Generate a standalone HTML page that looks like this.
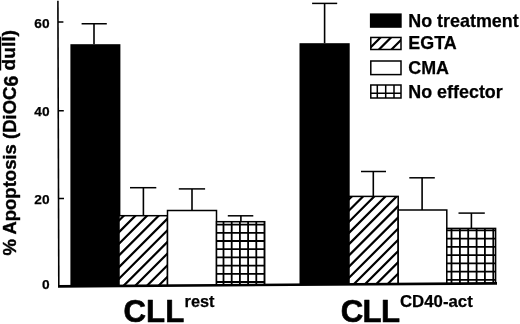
<!DOCTYPE html>
<html><head><meta charset="utf-8">
<style>
html,body{margin:0;padding:0;background:#fff;overflow:hidden;}
svg{display:block;filter:blur(0.4px);}
text{font-family:"Liberation Sans",sans-serif;font-weight:bold;fill:#000;stroke:#000;stroke-width:0.25px;stroke-linejoin:round;}
.yl{stroke-width:0.4px}
.big{stroke-width:0.6px}
</style></head>
<body>
<svg width="520" height="324" viewBox="0 0 520 324">
<rect width="520" height="324" fill="#fff"/>
<path d="M57.9,0.8L58.8,286.4" stroke="#000" stroke-width="1.6" fill="none"/>
<path d="M58,22H63.4M58,110.7H63.8M58,198.5H64" stroke="#000" stroke-width="1.6"/>
<text x="49.6" y="27.7" font-size="13.7" text-anchor="end">60</text>
<text x="49.6" y="116.3" font-size="13.7" text-anchor="end">40</text>
<text x="49.6" y="204.4" font-size="13.7" text-anchor="end">20</text>
<text x="49.6" y="289.3" font-size="13.7" text-anchor="end">0</text>
<text transform="translate(15.5,255.5) rotate(-90)" class="yl" font-size="18.5">% Apoptosis (DiOC</text>
<text transform="translate(17.9,86.4) rotate(-90)" class="yl" font-size="19.5">6</text>
<text transform="translate(15.4,70.5) rotate(-90)" class="yl" font-size="19.2">dull)</text>
<rect x="0" y="36.7" width="1.2" height="33.8" fill="#000"/>
<rect x="70.4" y="44.2" width="50.0" height="245.8" fill="#000"/>
<path d="M94,44.2V23.75" stroke="#000" stroke-width="1.6"/><path d="M81.6,23.75H106.8" stroke="#000" stroke-width="1.5"/>
<clipPath id="ch1"><rect x="119" y="215.7" width="48.5" height="74.30000000000001"/></clipPath>
<rect x="119" y="215.7" width="48.5" height="74.30000000000001" fill="#fff"/>
<path d="M117.0,222.5L169.5,170.0M117.0,234.1L169.5,181.6M117.0,245.8L169.5,193.3M117.0,257.4L169.5,204.9M117.0,269.1L169.5,216.6M117.0,280.7L169.5,228.2M117.0,292.4L169.5,239.9M117.0,304.0L169.5,251.5M117.0,315.7L169.5,263.2M117.0,327.3L169.5,274.8M117.0,339.0L169.5,286.5" stroke="#000" stroke-width="2.2" clip-path="url(#ch1)" fill="none"/>
<rect x="119" y="215.7" width="48.5" height="74.30000000000001" fill="none" stroke="#000" stroke-width="1.5"/>
<path d="M143.4,215.7V187.7" stroke="#000" stroke-width="1.6"/><path d="M130,187.7H156.3" stroke="#000" stroke-width="1.5"/>
<rect x="167.5" y="210.5" width="49.0" height="79.5" fill="#fff" stroke="#000" stroke-width="1.5"/>
<path d="M192,210.5V188.9" stroke="#000" stroke-width="1.6"/><path d="M178.8,188.9H205.1" stroke="#000" stroke-width="1.5"/>
<clipPath id="cg1"><rect x="216.5" y="221.7" width="48.19999999999999" height="68.30000000000001"/></clipPath>
<rect x="216.5" y="221.7" width="48.19999999999999" height="68.30000000000001" fill="#fff"/>
<path d="M223.5,221.7V290M231.7,221.7V290M239.9,221.7V290M248.1,221.7V290M256.3,221.7V290M264.5,221.7V290M216.5,224.6H264.7M216.5,232.8H264.7M216.5,241.0H264.7M216.5,249.2H264.7M216.5,257.4H264.7M216.5,265.6H264.7M216.5,273.8H264.7M216.5,282.0H264.7" stroke="#000" stroke-width="1.8" clip-path="url(#cg1)" fill="none"/>
<rect x="216.5" y="221.7" width="48.19999999999999" height="68.30000000000001" fill="none" stroke="#000" stroke-width="1.5"/>
<path d="M240.9,221.6V215.8" stroke="#000" stroke-width="1.6"/><path d="M227.8,215.8H253.3" stroke="#000" stroke-width="1.5"/>
<rect x="299.5" y="43.2" width="50.19999999999999" height="246.8" fill="#000"/>
<path d="M324.6,43.2V3.4" stroke="#000" stroke-width="1.6"/><path d="M312.1,3.4H337.2" stroke="#000" stroke-width="1.5"/>
<clipPath id="ch2"><rect x="349" y="196.4" width="49.19999999999999" height="93.6"/></clipPath>
<rect x="349" y="196.4" width="49.19999999999999" height="93.6" fill="#fff"/>
<path d="M347.0,201.3L400.2,148.1M347.0,212.5L400.2,159.3M347.0,223.7L400.2,170.5M347.0,234.9L400.2,181.7M347.0,246.1L400.2,192.9M347.0,257.4L400.2,204.2M347.0,268.6L400.2,215.4M347.0,279.8L400.2,226.6M347.0,291.0L400.2,237.8M347.0,302.2L400.2,249.0M347.0,313.4L400.2,260.2M347.0,324.7L400.2,271.5M347.0,335.9L400.2,282.7" stroke="#000" stroke-width="2.2" clip-path="url(#ch2)" fill="none"/>
<rect x="349" y="196.4" width="49.19999999999999" height="93.6" fill="none" stroke="#000" stroke-width="1.5"/>
<path d="M373.3,196.3V171.5" stroke="#000" stroke-width="1.6"/><path d="M361,171.5H386" stroke="#000" stroke-width="1.5"/>
<rect x="398.2" y="210" width="48.60000000000002" height="80" fill="#fff" stroke="#000" stroke-width="1.5"/>
<path d="M422.1,210V177.8" stroke="#000" stroke-width="1.6"/><path d="M409.3,177.8H434.8" stroke="#000" stroke-width="1.5"/>
<clipPath id="cg2"><rect x="446.8" y="228.4" width="48.80000000000001" height="61.599999999999994"/></clipPath>
<rect x="446.8" y="228.4" width="48.80000000000001" height="61.599999999999994" fill="#fff"/>
<path d="M451.5,228.4V290M459.9,228.4V290M468.2,228.4V290M476.6,228.4V290M484.9,228.4V290M493.3,228.4V290M446.8,230.4H495.6M446.8,238.7H495.6M446.8,246.9H495.6M446.8,255.2H495.6M446.8,263.4H495.6M446.8,271.6H495.6M446.8,279.9H495.6M446.8,288.1H495.6" stroke="#000" stroke-width="1.8" clip-path="url(#cg2)" fill="none"/>
<rect x="446.8" y="228.4" width="48.80000000000001" height="61.599999999999994" fill="none" stroke="#000" stroke-width="1.5"/>
<path d="M471.4,228.4V213.1" stroke="#000" stroke-width="1.6"/><path d="M458.5,213.1H484.8" stroke="#000" stroke-width="1.5"/>
<polygon points="50,286.46 520,283.12 520,296 50,296" fill="#fff"/>
<path d="M58,286.40L497,283.28" stroke="#000" stroke-width="2.7" fill="none"/>
<rect x="369.9" y="13.4" width="31.8" height="14.4" fill="#000"/>
<clipPath id="cl2"><rect x="370.8" y="37.45" width="30.2" height="12.05"/></clipPath>
<path d="M365,53L385,33M375.5,53L395.5,33M388,53L408,33" stroke="#000" stroke-width="2.2" clip-path="url(#cl2)"/>
<rect x="370.8" y="37.45" width="30.2" height="12.05" fill="none" stroke="#000" stroke-width="1.5"/>
<rect x="370.8" y="61" width="30.2" height="13.6" fill="#fff" stroke="#000" stroke-width="1.5"/>
<rect x="370.8" y="85" width="30.2" height="13" fill="#fff" stroke="#000" stroke-width="1.5"/>
<path d="M377.3,85V98M385.7,85V98M394,85V98M370.8,93.3H401" stroke="#000" stroke-width="1.5"/>
<text x="408.3" y="26.8" font-size="17.9">No treatment</text>
<text x="408.3" y="49.4" font-size="17.9">EGTA</text>
<text x="408.3" y="73.9" font-size="17.9">CMA</text>
<text x="408.3" y="97.6" font-size="17.9">No effector</text>
<text x="123.6" y="321.6" font-size="31.2" class="big">CLL</text>
<text x="184.6" y="307.3" font-size="16.3">rest</text>
<text x="340.8" y="321.7" font-size="31.2" class="big" letter-spacing="-0.7">CLL</text>
<text x="400" y="306.7" font-size="16.8">CD40-act</text>
</svg>
</body></html>
